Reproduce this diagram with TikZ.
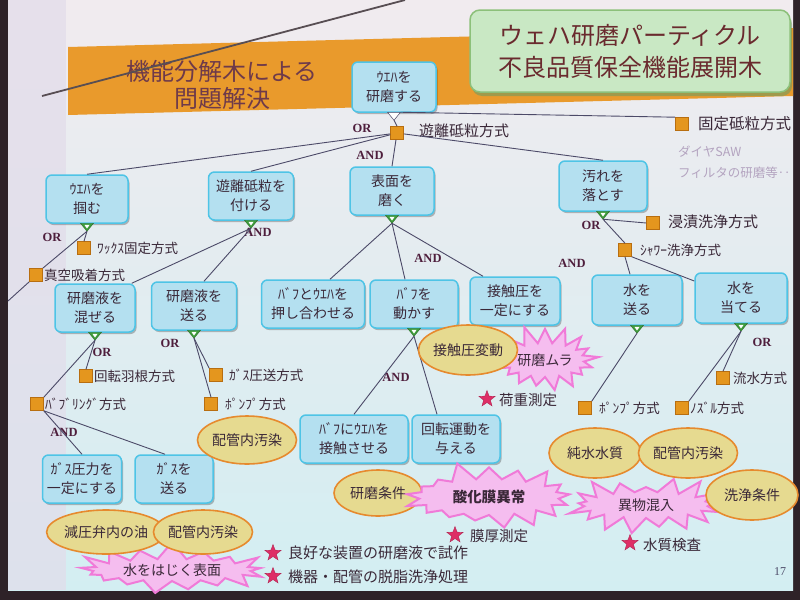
\documentclass[tikz,border=0pt]{standalone}
\usepackage{fontspec}
\setmainfont{Noto Sans CJK JP}
\newfontfamily\lat{Liberation Serif}
\usetikzlibrary{shapes.geometric,shapes.symbols,shadows,calc}
\definecolor{framedark}{HTML}{2E2228}
\definecolor{bgtop}{HTML}{F1EBEF}
\definecolor{bgbot}{HTML}{D3EEF2}
\definecolor{stripcol}{HTML}{E2DCEA}
\definecolor{bandcol}{HTML}{E99A2C}
\definecolor{boxfill}{HTML}{B4E0F0}
\definecolor{boxline}{HTML}{4EC4E6}
\definecolor{txt}{HTML}{3A2838}
\definecolor{sqfill}{HTML}{E4961E}
\definecolor{sqline}{HTML}{B86E10}
\definecolor{connc}{HTML}{4C4A68}
\definecolor{logicc}{HTML}{4E1E3C}
\definecolor{ellfill}{HTML}{E6DA90}
\definecolor{ellline}{HTML}{E68A2E}
\definecolor{burstfill}{HTML}{F5BDEF}
\definecolor{burstline}{HTML}{F07AD8}
\definecolor{starc}{HTML}{DE2E66}
\definecolor{trigreen}{HTML}{3E9C3A}
\definecolor{titlefill}{HTML}{C9E8C4}
\definecolor{titleline}{HTML}{8CC07A}
\definecolor{titletxt}{HTML}{6A2A2E}
\definecolor{graytxt}{HTML}{B4A4C0}
\definecolor{bandtxt}{HTML}{6E3A4A}
\newcommand\gtri[2]{%
  \filldraw[fill=trigreen, draw=trigreen!70!black, line width=.4pt] (#1.south) ++(-6.5,-0.5) -- ++(13,0) -- ++(-6.5,8) -- cycle;
  \fill[white] (#1.south) ++(-2.5,1.2) -- ++(5,0) -- ++(-2.5,3.6) -- cycle;
  \coordinate (#2) at ($(#1.south)+(0,7.5)$);}
\begin{document}
\begin{tikzpicture}[x=1pt,y=-1pt,
  box/.style={draw=boxline, line width=1.5pt, fill=boxfill, rounded corners=6pt, align=center, text=txt,
    font=\fontsize{14}{19}\selectfont, inner sep=2pt,
    drop shadow={shadow xshift=1.5pt, shadow yshift=-2pt, fill=black, opacity=.25}},
  sq/.style={rectangle, fill=sqfill, draw=sqline, line width=.6pt, minimum size=13pt, inner sep=0pt},
  lbl/.style={anchor=west, text=txt, font=\fontsize{13.5}{16}\selectfont, inner sep=1pt},
  conn/.style={draw=connc, line width=.9pt},
  logic/.style={font=\lat\bfseries\fontsize{12.5}{14}\selectfont, text=logicc, inner sep=0pt},
  ell/.style={ellipse, draw=ellline, line width=1.6pt, fill=ellfill, inner sep=0pt, text=txt, font=\fontsize{14}{16}\selectfont},
  burst/.style={starburst, starburst points=17, starburst point height=19pt, random starburst=7, draw=burstline,
    line width=2pt, fill=burstfill, inner sep=0pt, text=txt, font=\fontsize{14}{16}\selectfont},
  pstar/.style={star, star points=5, star point ratio=2.4, fill=starc, draw=starc!80!black, minimum size=17pt, inner sep=0pt}]
\useasboundingbox (0,0) rectangle (800,600);
% background / frame
\fill[framedark] (0,0) rectangle (800,600);
\shade[top color=bgtop, bottom color=bgbot] (8,0) rectangle (793,590);
\fill[stripcol, opacity=.7] (8,0) rectangle (66,590);
% orange band
\fill[bandcol] (68,47) -- (793,28) -- (793,96) -- (68,115) -- cycle;
\node[text=bandtxt, font=\fontsize{24}{27}\selectfont, align=center] (band) at (222,85) {機能分解木による\\問題解決};
\draw[line width=1.8pt, draw=framedark!80] (42,96) -- (405,0);
% title box
\node[draw=titleline, line width=1.5pt, fill=titlefill, rounded corners=10pt, minimum width=320pt, minimum height=82pt,
  text=titletxt, font=\fontsize{24}{32}\selectfont, align=center,
  drop shadow={shadow xshift=2pt, shadow yshift=-4pt, fill=titleline!80!black, opacity=.6}] (title) at (630,51)
  {ウェハ研磨パーティクル\\不良品質保全機能展開木};

% ---------- boxes ----------
\node[box, minimum width=84pt, minimum height=50pt] (root) at (394,87) {ｳｴﾊを\\研磨する};
\node[box, minimum width=82pt, minimum height=48pt] (n1) at (87,199) {ｳｴﾊを\\掴む};
\node[box, minimum width=85pt, minimum height=48pt] (n2) at (251,196) {遊離砥粒を\\付ける};
\node[box, minimum width=84pt, minimum height=48pt] (n3) at (392,191) {表面を\\磨く};
\node[box, minimum width=88pt, minimum height=50pt] (n4) at (603,186) {汚れを\\落とす};
\node[box, minimum width=80pt, minimum height=48pt] (m1) at (95,308) {研磨液を\\混ぜる};
\node[box, minimum width=85pt, minimum height=48pt] (m2) at (194,306) {研磨液を\\送る};
\node[box, minimum width=103pt, minimum height=48pt] (m3) at (313,304) {ﾊﾞﾌとｳｴﾊを\\押し合わせる};
\node[box, minimum width=88pt, minimum height=48pt] (m4) at (414,304) {ﾊﾞﾌを\\動かす};
\node[box, minimum width=90pt, minimum height=48pt] (m5) at (515,301) {接触圧を\\一定にする};
\node[box, minimum width=90pt, minimum height=50pt] (m6) at (637,300) {水を\\送る};
\node[box, minimum width=92pt, minimum height=50pt] (m7) at (741,298) {水を\\当てる};
\node[box, minimum width=79pt, minimum height=48pt] (b1) at (82,479) {ｶﾞｽ圧力を\\一定にする};
\node[box, minimum width=78pt, minimum height=48pt] (b2) at (174,479) {ｶﾞｽを\\送る};
\node[box, minimum width=108pt, minimum height=48pt] (b3) at (354,439) {ﾊﾞﾌにｳｴﾊを\\接触させる};
\node[box, minimum width=88pt, minimum height=48pt] (b4) at (456,439) {回転運動を\\与える};

% ---------- triangles ----------
\filldraw[fill=white, draw=connc, line width=.5pt] (root.south) ++(-6.5,-0.5) -- ++(13,0) -- ++(-6.5,8) -- cycle;
\coordinate (t0) at ($(root.south)+(0,7.5)$);
\coordinate (t0r) at ($(root.south)+(6.5,-0.5)$);
\gtri{n1}{t1}\gtri{n2}{t2}\gtri{n3}{t3}\gtri{n4}{t4}
\gtri{m1}{tm1}\gtri{m2}{tm2}\gtri{m4}{tm4}\gtri{m6}{tm6}\gtri{m7}{tm7}

% ---------- squares and labels ----------
\node[sq] (sq0) at (397,133) {};
\node[lbl, font=\fontsize{15}{17}\selectfont] (l0) at (418,131) {遊離砥粒方式};
\node[sq] (sqF) at (682,124) {};
\node[lbl, font=\fontsize{15.5}{17}\selectfont] (lF) at (697,124) {固定砥粒方式};
\node[lbl, text=graytxt, font=\fontsize{12.5}{15}\selectfont] (g1) at (677,152) {ダイヤSAW};
\node[lbl, text=graytxt, font=\fontsize{12.5}{15}\selectfont] (g2) at (677,173) {フィルタの研磨等‥};
\node[sq] (sqWax) at (84,248) {};
\node[lbl] (lWax) at (96,248) {ﾜｯｸｽ固定方式};
\node[sq] (sqVac) at (36,275) {};
\node[lbl] (lVac) at (43,275) {真空吸着方式};
\coordinate (offL) at (8,301);
\node[sq] (sqDip) at (653,223) {};
\node[lbl, font=\fontsize{15}{17}\selectfont] (lDip) at (667,222) {浸漬洗浄方式};
\node[sq] (sqSh) at (625,250) {};
\node[lbl] (lSh) at (639,250) {ｼｬﾜｰ洗浄方式};
\node[sq] (sqRot) at (86,376) {};
\node[lbl] (lRot) at (93,376) {回転羽根方式};
\node[sq] (sqBub) at (37,404) {};
\node[lbl] (lBub) at (44,404) {ﾊﾞﾌﾞﾘﾝｸﾞ方式};
\node[sq] (sqGas) at (216,375) {};
\node[lbl] (lGas) at (228,375) {ｶﾞｽ圧送方式};
\node[sq] (sqPump) at (211,404) {};
\node[lbl] (lPump) at (224,404) {ﾎﾟﾝﾌﾟ方式};
\node[sq] (sqPump2) at (585,408) {};
\node[lbl] (lPump2) at (598,408) {ﾎﾟﾝﾌﾟ方式};
\node[sq] (sqNoz) at (682,408) {};
\node[lbl] (lNoz) at (689,408) {ﾉｽﾞﾙ方式};
\node[sq] (sqFlow) at (723,378) {};
\node[lbl] (lFlow) at (732,378) {流水方式};

% ---------- logic labels ----------
\node[logic] (o0) at (362,128) {OR};
\node[logic] (a0) at (370,155) {AND};
\node[logic] (o1) at (52,237) {OR};
\node[logic] (a2) at (258,232) {AND};
\node[logic] (a3) at (428,258) {AND};
\node[logic] (o4) at (591,225) {OR};
\node[logic] (a4) at (572,263) {AND};
\node[logic] (om1) at (102,352) {OR};
\node[logic] (am1) at (64,432) {AND};
\node[logic] (om2) at (170,343) {OR};
\node[logic] (am4) at (396,377) {AND};
\node[logic] (om7) at (762,342) {OR};

% ---------- connectors ----------
\draw[conn] (t0r) -- (sqF.north west);
\draw[conn] (t0) -- (sq0.north);
\draw[conn] (sq0) -- (n1.north);
\draw[conn] (sq0) -- (n2.north);
\draw[conn] (sq0) -- (n3.north);
\draw[conn] (sq0) -- (n4.north);
\draw[conn] (t1) -- (sqWax.north);
\draw[conn] (t1) -- (sqVac.north east);
\draw[conn] (sqVac.south west) -- (offL);
\draw[conn] (t2) -- ($(m1.north east)+(-4,0)$);
\draw[conn] (t2) -- ($(m2.north)+(10,0)$);
\draw[conn] (t3) -- ($(m3.north)+(17,0)$);
\draw[conn] (t3) -- ($(m4.north)+(-9,0)$);
\draw[conn] (t3) -- ($(m5.north)+(-32,0)$);
\draw[conn] (t4) -- (sqDip.west);
\draw[conn] (t4) -- (sqSh.north);
\draw[conn] (sqSh.south) -- ($(m6.north)+(-7,0)$);
\draw[conn] (sqSh.south east) -- (m7.160);
\draw[conn] (tm1) -- (sqRot.north);
\draw[conn] (tm1) -- (sqBub.north east);
\draw[conn] (sqBub.south east) -- (b1.north);
\draw[conn] (sqBub.south east) -- ($(b2.north)+(-9,0)$);
\draw[conn] (tm2) -- (sqGas.north west);
\draw[conn] (tm2) -- (sqPump.north);
\draw[conn] (tm4) -- (b3.north);
\draw[conn] (tm4) -- ($(b4.north)+(-19,0)$);
\draw[conn] (tm6) -- (sqPump2.north east);
\draw[conn] (tm7) -- (sqFlow.north);
\draw[conn] (tm7) -- (sqNoz.north east);

% ---------- bursts and ellipses ----------
\node[ell, minimum width=85pt, minimum height=48pt] (e1) at (247,440) {配管内汚染};
\node[burst, minimum width=114pt, minimum height=72pt, random starburst=11] (s1) at (545,360) {研磨ムラ};
\node[ell, minimum width=92pt, minimum height=50pt] (e2) at (468,350) {接触圧変動};
\node[burst, minimum width=162pt, minimum height=64pt, random starburst=23] (s3) at (646,505) {異物混入};
\node[ell, minimum width=92pt, minimum height=50pt] (e3) at (595,453) {純水水質};
\node[ell, minimum width=95pt, minimum height=50pt] (e4) at (688,453) {配管内汚染};
\node[ell, minimum width=92pt, minimum height=50pt] (e5) at (752,495) {洗浄条件};
\node[ell, minimum width=88pt, minimum height=46pt] (e6) at (378,493) {研磨条件};
\node[burst, minimum width=178pt, minimum height=74pt, random starburst=5, font=\bfseries\fontsize{14.5}{16}\selectfont] (s2) at (489,497) {酸化膜異常};
\node[burst, minimum width=196pt, minimum height=60pt, random starburst=17] (s4) at (172,570) {水をはじく表面};
\node[ell, minimum width=100pt, minimum height=44pt] (e7) at (106,532) {減圧弁内の油};
\node[ell, minimum width=85pt, minimum height=44pt] (e8) at (203,532) {配管内汚染};

% ---------- stars ----------
\node[pstar] (st1) at (487,399) {};
\node[lbl, font=\fontsize{14.5}{16}\selectfont] (lst1) at (498,400) {荷重測定};
\node[pstar] (st2) at (455,535) {};
\node[lbl, font=\fontsize{14.5}{16}\selectfont] (lst2) at (469,536) {膜厚測定};
\node[pstar] (st3) at (630,543) {};
\node[lbl, font=\fontsize{14.5}{16}\selectfont] (lst3) at (642,545) {水質検査};
\node[pstar] (st4) at (273,553) {};
\node[lbl, font=\fontsize{15}{17}\selectfont] (lst4) at (287,553) {良好な装置の研磨液で試作};
\node[pstar] (st5) at (273,576) {};
\node[lbl, font=\fontsize{15}{17}\selectfont] (lst5) at (287,577) {機器・配管の脱脂洗浄処理};

\node[font=\lat\fontsize{12}{14}\selectfont, text=connc] (pg) at (780,572) {17};
\end{tikzpicture}
\end{document}
